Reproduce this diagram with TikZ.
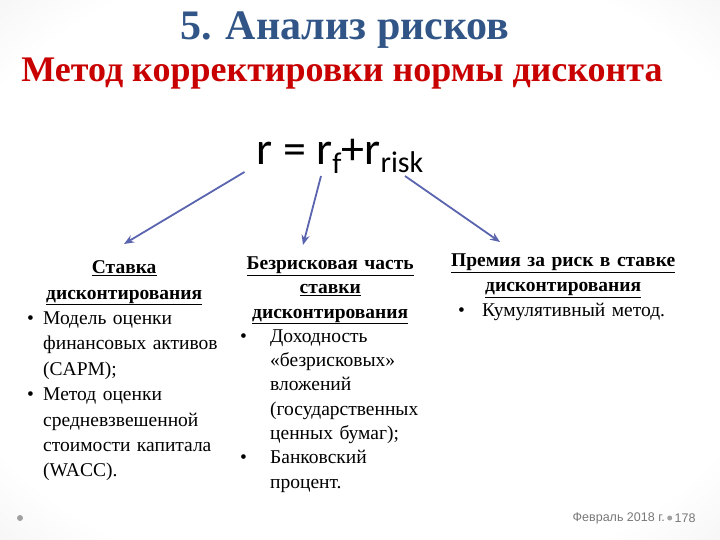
\documentclass[tikz,border=0pt]{standalone}
\usepackage{fontspec}
\setmainfont{Liberation Serif}
\newfontfamily\formfont{Carlito}
\newfontfamily\footfont{Liberation Sans}
\usetikzlibrary{positioning, arrows.meta}
\definecolor{ttl}{RGB}{50, 85, 135}
\definecolor{subttl}{RGB}{200, 0, 0}
\definecolor{arr}{RGB}{90, 100, 175}
\definecolor{foot}{RGB}{120, 120, 120}

\pgfdeclareradialshading{slide}{\pgfpoint{0bp}{0bp}}{%
    color(0bp)=(white); color(30bp)=(white); color(50bp)=(gray!25)}

% heading line (bold, underlined, centred) and bullet item
\newcommand{\hd}[2]{\par\noindent\makebox[#1]{\bfseries\underline{#2}}}
\newcommand{\bul}[1]{\par\rightskip=0pt plus 1fil\hangindent=#1\hangafter=1\noindent\makebox[#1][l]{\textbullet}}

\begin{document}
\begin{tikzpicture}[
    x=1pt, y=-1pt,
    >=Stealth,
    col/.style={
        anchor=north west, inner sep=0pt,
        text width=250pt, align=left,
        font=\fontsize{19.5}{#1}\selectfont,
    },
    arrow/.style={-{Stealth[length=10pt, width=8pt]}, line width=1.8pt, draw=arr},
    dot/.style={circle, fill=foot!70, inner sep=0pt, minimum size=#1},
    dot/.default=6pt,
    foottext/.style={font=\footfont\fontsize{12.5}{12.5}\selectfont, text=foot, inner sep=0pt},
]

\shade[shading=slide] (0,0) rectangle (720,540);
\useasboundingbox (0,0) rectangle (720,540);

% =================================================
% Titles and formula
% =================================================
\node[font=\fontsize{42}{42}\selectfont\bfseries, text=ttl] (title) at (345,30) {5. Анализ рисков};
\node[font=\fontsize{36}{36}\selectfont\bfseries, text=subttl] (subtitle) at (342,74)
    {Метод корректировки нормы дисконта};

\node[font=\formfont\fontsize{46}{46}\selectfont, anchor=base, inner sep=0pt] (formula) at (340,165)
    {r = r\raisebox{-9pt}{\fontsize{30}{30}\selectfont f}+r\raisebox{-8pt}{\fontsize{30}{30}\selectfont risk}};

% =================================================
% Three columns
% =================================================
\node[col=25.4pt] (lcol) at (27,248) {%
    \hd{194pt}{Ставка}
    \hd{194pt}{дисконтирования}
    \bul{16pt}Модель оценки\newline финансовых активов\newline (CAPM);
    \bul{16pt}Метод оценки\newline средневзвешенной\newline стоимости капитала\newline (WACC).\par};

\node[col=24.3pt] (mcol) at (240,245) {%
    \hd{180pt}{Безрисковая часть}
    \hd{180pt}{ставки}
    \hd{180pt}{дисконтирования}
    \bul{30pt}Доходность\newline «безрисковых»\newline вложений\newline (государственных\newline ценных бумаг);
    \bul{30pt}Банковский\newline процент.\par};

\node[col=25pt] (rcol) at (458,241) {%
    \hd{210pt}{Премия за риск в ставке}
    \hd{210pt}{дисконтирования}
    \bul{24pt}Кумулятивный метод.\par};

% =================================================
% Arrows
% =================================================
\draw[arrow] ([shift={(-12,7)}]formula.base west) -- ([shift={(97,-4)}]lcol.north west);
\draw[arrow] ([shift={(-19,11)}]formula.base)     -- ([shift={(63,0)}]mcol.north west);
\draw[arrow] ([shift={(65,11)}]formula.base)      -- ([shift={(42,1)}]rcol.north west);

% =================================================
% Footer
% =================================================
\node[dot] (ldot) at (20,518) {};
\node[foottext, anchor=east] (date) at (665,518) {Февраль 2018 г.};
\node[dot=5pt, right=2pt of date] (rdot) {};
\node[foottext, right=2pt of rdot] (page) {178};

\end{tikzpicture}
\end{document}
